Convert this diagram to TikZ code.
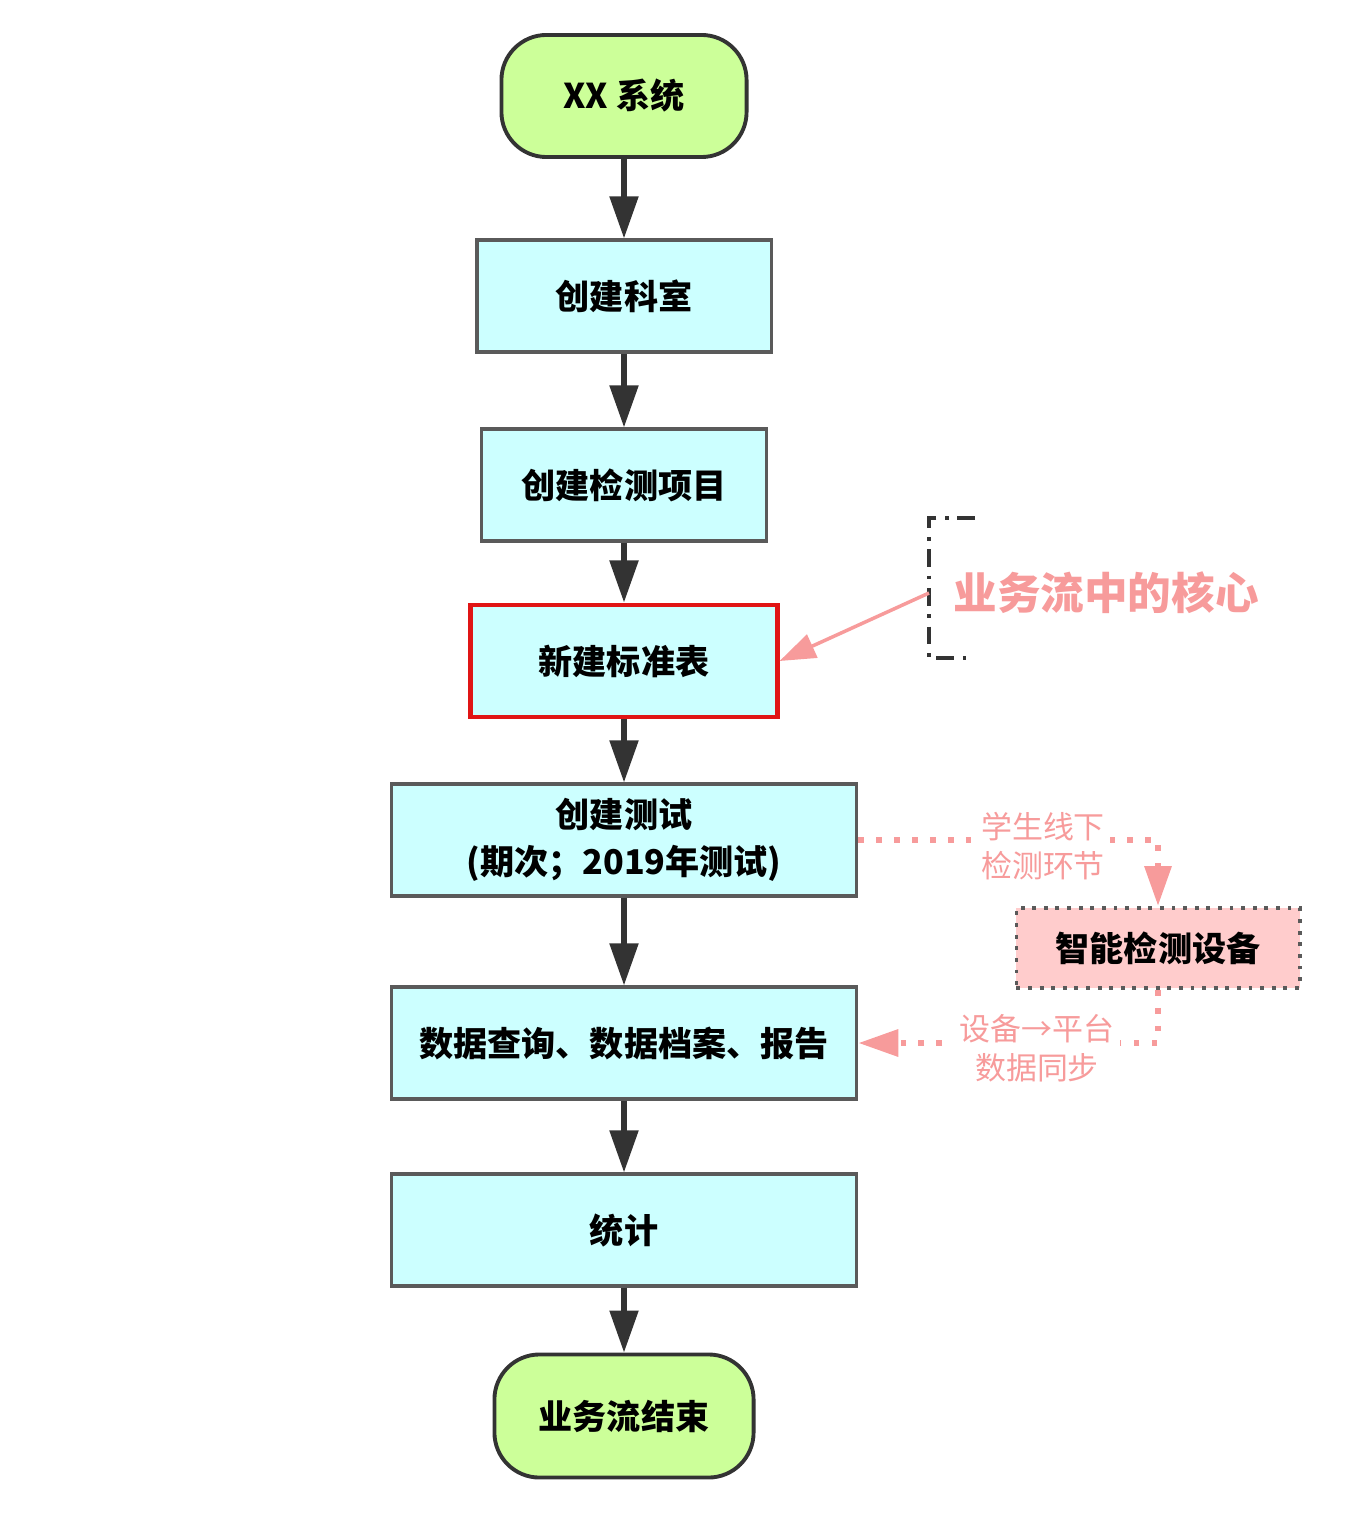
\documentclass[tikz,border=0pt]{standalone}
\usepackage{fontspec}
\setmainfont{Noto Sans CJK SC}
\usetikzlibrary{arrows.meta,positioning}

\definecolor{termgreen}{HTML}{CCFF99}
\definecolor{proccyan}{HTML}{CCFFFF}
\definecolor{edgegray}{HTML}{5A5A5A}
\definecolor{edgedark}{HTML}{333333}
\definecolor{corered}{HTML}{E01515}
\definecolor{notepink}{HTML}{F79B9B}
\definecolor{devpink}{HTML}{FFCCCC}

\begin{document}
\begin{tikzpicture}[x=0.01cm,y=-0.01cm,
  term/.style={draw=edgedark, line width=1.1pt, fill=termgreen, rounded corners=0.45cm,
    minimum width=2.45cm, minimum height=1.22cm, font=\fontsize{9.7}{12}\selectfont\bfseries},
  proc/.style={draw=edgegray, line width=0.9pt, fill=proccyan, align=center,
    minimum height=1.12cm, font=\fontsize{9.7}{13.5}\selectfont\bfseries},
  flow/.style={draw=edgedark, line width=1.5pt, -{Triangle[length=0.42cm,width=0.28cm]}},
  sync/.style={draw=notepink, line width=1.8pt, dash pattern=on 1.6pt off 3.5pt,
    -{Triangle[length=0.4cm,width=0.26cm]}},
  lbl/.style={fill=white, inner sep=1.5pt, align=center, text=notepink,
    font=\fontsize{8.8}{11.2}\selectfont}
]
\useasboundingbox (0,0) rectangle (1357,1525);

% main flow
\node[term] (start) at (624,96) {XX 系统};
\node[proc, minimum width=2.94cm] (room) at (624,296) {创建科室};
\node[proc, minimum width=2.85cm] (item) at (624,485) {创建检测项目};
\node[proc, minimum width=3.06cm, draw=corered, line width=1.4pt] (stdtab) at (624,661) {新建标准表};
\node[proc, minimum width=4.65cm] (test) at (624,840) {创建测试\\(期次；2019年测试)};
\node[proc, minimum width=4.65cm] (query) at (624,1043) {数据查询、数据档案、报告};
\node[proc, minimum width=4.65cm] (stat) at (624,1230) {统计};
\node[term, minimum width=2.59cm, minimum height=1.23cm] (finish) at (624,1416) {业务流结束};

\foreach \a/\b in {start/room,room/item,item/stdtab,stdtab/test,test/query,query/stat,stat/finish}
{
    \draw[flow] (\a) -- (\b);
}

% core note
\draw[edgedark, line width=0.9pt, dash pattern=on 5pt off 2.5pt on 1pt off 2.5pt]
  (975,518) -- (929,518) -- (929,658) -- (975,658);
\coordinate (brk) at (929,593);
\node[text=notepink, font=\fontsize{12.4}{15}\selectfont\bfseries] (core) at (1106,593) {业务流中的核心};
\draw[notepink, line width=1pt, -{Triangle[length=0.36cm,width=0.25cm]}] (brk) -- (stdtab.east);

% device
\node[draw=edgegray, line width=1.1pt, dash pattern=on 1.1pt off 2.2pt, fill=devpink,
  minimum width=2.83cm, minimum height=0.8cm, font=\fontsize{9.7}{12}\selectfont\bfseries]
  (device) at (1158,948) {智能检测设备};

\coordinate (c1) at (device.north |- test.east);
\coordinate (c2) at (device.south |- query.east);
\draw[sync] (test.east) -- (c1) -- (device.north);
\draw[sync] (device.south) -- (c2) -- (query.east);
\node[lbl] (offline) at (1043,846) {学生线下\\检测环节};
\node[lbl] (upload) at (1037,1048) {设备→平台\\数据同步};

\end{tikzpicture}
\end{document}
